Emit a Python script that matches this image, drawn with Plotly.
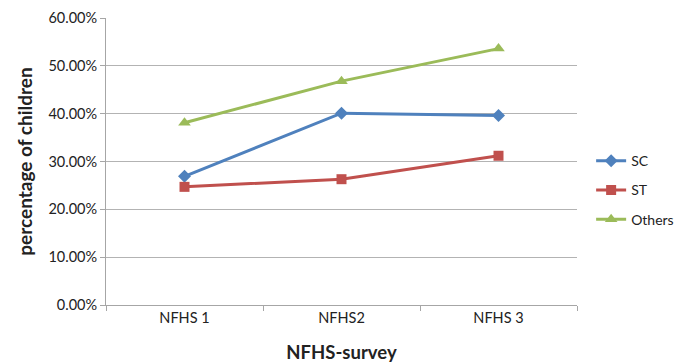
import plotly.graph_objects as go

# Survey rounds and share of children per social group
surveys = ["NFHS 1", "NFHS2", "NFHS 3"]
sc_values = [0.269, 0.401, 0.396]
st_values = [0.247, 0.263, 0.312]
others_values = [0.381, 0.468, 0.536]
y_ticks = [0.0, 0.1, 0.2, 0.3, 0.4, 0.5, 0.6]

series = [
    ("SC", sc_values, "#4F81BD", "diamond", 10),
    ("ST", st_values, "#C0504D", "square", 10),
    ("Others", others_values, "#9BBB59", "triangle-up", 11),
]

fig = go.Figure()
for name, vals, color, symbol, size in series:
    fig.add_trace(go.Scatter(
        x=surveys, y=vals, name=name, legendgroup=name, mode="lines+markers",
        line=dict(color=color, width=3),
        marker=dict(symbol=symbol, size=size, color=color),
    ))

font_family = "Lato, 'Open Sans', sans-serif"
fig.update_layout(
    width=681, height=363,
    margin=dict(l=106, r=104, t=18, b=58, autoexpand=False),
    paper_bgcolor="white", plot_bgcolor="white",
    font=dict(family=font_family, size=14, color="#222222"),
    showlegend=True,
    legend=dict(
        x=1.03, y=0.40, xanchor="left", yanchor="middle",
        font=dict(size=14), itemwidth=30, tracegroupgap=8,
        bgcolor="rgba(0,0,0,0)",
    ),
    xaxis=dict(
        type="category", range=[-0.5, 2.5],
        showline=True, linecolor="#a6a6a6", linewidth=1,
        ticks="outside", tickson="boundaries", ticklen=5, tickcolor="#a6a6a6",
        showgrid=False,
        tickfont=dict(size=14.5),
        title=dict(text="<b>NFHS-survey</b>", font=dict(size=18.5), standoff=20),
    ),
    yaxis=dict(
        range=[0, 0.6], tickvals=y_ticks, tickformat=".2%",
        showline=True, linecolor="#a6a6a6", linewidth=1,
        ticks="outside", ticklen=5, tickcolor="#a6a6a6",
        showgrid=True, gridcolor="#b3b3b3", gridwidth=1,
        zeroline=False,
        tickfont=dict(size=14.5),
        title=dict(text="<b>percentage of children</b>", font=dict(size=19), standoff=10),
    ),
)

fig.write_html("out.html")
